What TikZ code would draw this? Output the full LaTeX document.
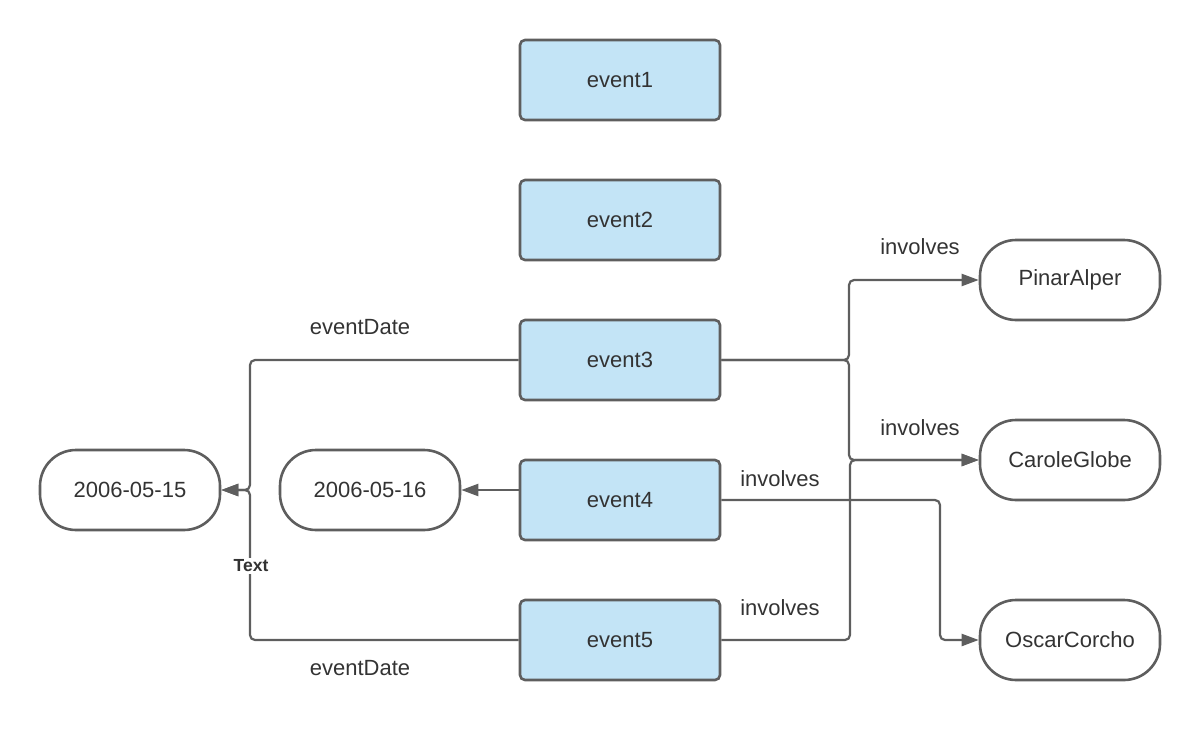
\documentclass[tikz,border=0pt]{standalone}
\usepackage{fontspec}
\setmainfont{Liberation Sans}
\usetikzlibrary{arrows.meta}
\definecolor{boxfill}{HTML}{C3E4F6}
\definecolor{linegray}{HTML}{5E5E5E}
\definecolor{txt}{HTML}{333333}
\tikzset{
  evbox/.style={draw=linegray, line width=2.6pt, fill=boxfill, rounded corners=5pt,
    minimum width=200pt, minimum height=80pt, inner sep=0pt, text=txt, font=\fontsize{22}{26}\selectfont},
  pill/.style={draw=linegray, line width=2.6pt, fill=white, rounded corners=36pt,
    minimum width=180pt, minimum height=80pt, inner sep=0pt, text=txt, font=\fontsize{22}{26}\selectfont},
  conn/.style={draw=linegray, line width=2.2pt, rounded corners=5pt,
    -{Triangle[length=17pt,width=12pt]}},
  lbl/.style={text=txt, font=\fontsize{22}{26}\selectfont, inner sep=0pt},
}
\begin{document}
\begin{tikzpicture}[x=1pt,y=-1pt]
\useasboundingbox (0,0) rectangle (1200,740);
\node[evbox] (e1) at (620,80) {event1};
\node[evbox] (e2) at (620,220) {event2};
\node[evbox] (e3) at (620,360) {event3};
\node[evbox] (e4) at (620,500) {event4};
\node[evbox] (e5) at (620,640) {event5};
\node[pill] (d15) at (130,490) {2006-05-15};
\node[pill] (d16) at (370,490) {2006-05-16};
\node[pill] (pa) at (1070,280) {PinarAlper};
\node[pill] (cg) at (1070,460) {CaroleGlobe};
\node[pill] (oc) at (1070,640) {OscarCorcho};
\coordinate (j3) at (250,360);
\coordinate (j5) at (250,640);
\coordinate (r3) at (849,360);
\coordinate (r5) at (850,640);
\coordinate (r4) at (940,500);
% connectors
\draw[conn] (e3.west) -- (j3) -- (j3 |- d15.east) -- (d15.east);
\draw[conn] (e5.west) -- (j5) -- (j5 |- d15.east) -- (d15.east);
\draw[conn] (e4.west |- d16.east) -- (d16.east);
\draw[conn] (e3.east) -- (r3) -- (r3 |- pa.west) -- (pa.west);
\draw[conn] (e3.east) -- (r3) -- (r3 |- cg.west) -- (cg.west);
\draw[conn] (e5.east) -- (r5) -- (r5 |- cg.west) -- (cg.west);
\draw[conn] (e4.east) -- (r4) -- (r4 |- oc.west) -- (oc.west);
% labels
\node[lbl] (l1) at (360,327) {eventDate};
\node[lbl] (l2) at (360,668) {eventDate};
\node[lbl] (l3) at (920,247) {involves};
\node[lbl] (l4) at (920,428) {involves};
\node[lbl] (l5) at (780,479) {involves};
\node[lbl] (l6) at (780,608) {involves};
\node[fill=white, text=txt, font=\fontsize{17.5}{20}\selectfont\bfseries, inner sep=2pt] (tx) at (251,566) {Text};
\end{tikzpicture}
\end{document}
